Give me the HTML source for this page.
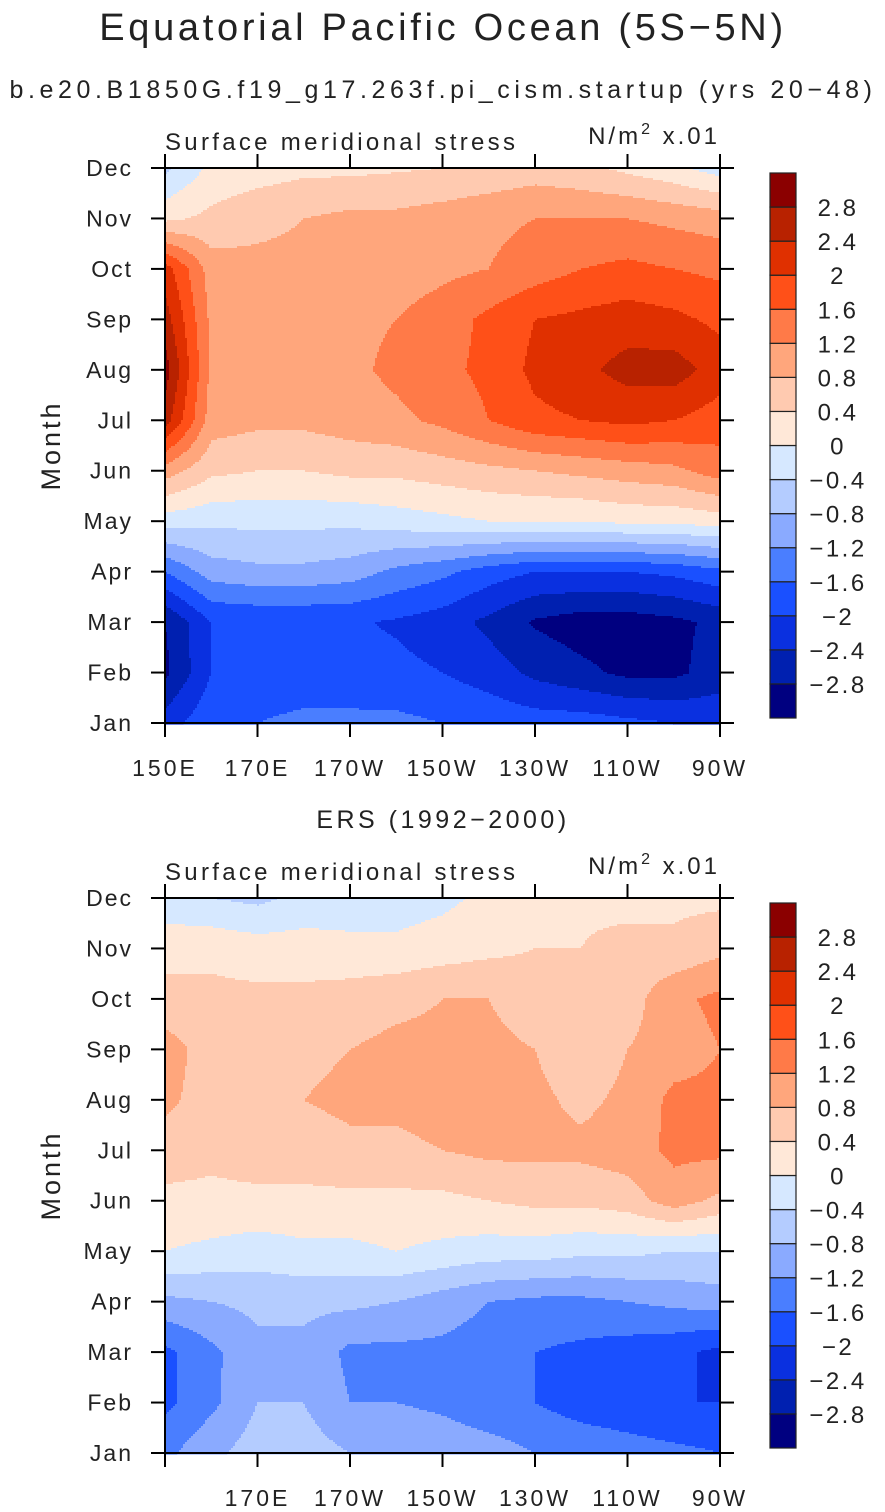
<!DOCTYPE html>
<html><head><meta charset="utf-8">
<style>
body{margin:0;background:#fff;}
svg{display:block;font-family:"Liberation Sans",sans-serif;}
text{fill:#222;}
</style></head>
<body>
<svg id="chart" width="885" height="1512" viewBox="0 0 885 1512">
<text x="443" y="40" font-size="38" text-anchor="middle" letter-spacing="3.7">Equatorial Pacific Ocean (5S−5N)</text>
<text x="443" y="98" font-size="25" text-anchor="middle" letter-spacing="4.6">b.e20.B1850G.f19_g17.263f.pi_cism.startup (yrs 20−48)</text>
<text x="443" y="828" font-size="25" text-anchor="middle" letter-spacing="3.5">ERS (1992−2000)</text>
<g id="p0"></g>
<g id="p1"></g>
</svg>
<script>
const months = ["Jan","Feb","Mar","Apr","May","Jun","Jul","Aug","Sep","Oct","Nov","Dec"];
const lons = [150,160,170,180,190,200,210,220,230,240,250,260,270];
const lonTicks = [150,170,190,210,230,250,270];
const lonTickLabels = ["150E","170E","170W","150W","130W","110W","90W"];
const levels = [-2.8,-2.4,-2,-1.6,-1.2,-0.8,-0.4,0,0.4,0.8,1.2,1.6,2,2.4,2.8];
const levelLabels = ["−2.8","−2.4","−2","−1.6","−1.2","−0.8","−0.4","0","0.4","0.8","1.2","1.6","2","2.4","2.8"];
const colors = ["#000080","#0020b0","#0a30e0","#1a50ff","#4a7eff","#8aaaff","#b4ccff","#d6e8ff","#ffe8d8","#ffcab0","#ffa67c","#ff7a48","#ff5018","#e03000","#b82200","#8b0000"];
// rows Jan..Dec, columns by lons
const modelData = [
[-2.2,-1.7,-1.6,-1.5,-1.5,-1.5,-1.6,-1.7,-1.8,-1.8,-1.9,-2.0,-2.1],
[-2.9,-2.0,-1.85,-1.85,-1.85,-1.9,-2.0,-2.2,-2.5,-2.7,-2.9,-2.9,-2.6],
[-2.8,-2.0,-1.95,-1.95,-1.95,-2.05,-2.2,-2.5,-2.85,-3.0,-3.0,-2.9,-2.7],
[-1.6,-1.0,-0.9,-0.9,-1.0,-1.3,-1.5,-1.8,-2.0,-2.0,-2.0,-1.9,-1.7],
[-0.2,-0.3,-0.3,-0.3,-0.3,-0.2,-0.1,0.0,0.0,0.0,0.1,0.1,0.2],
[1.0,0.5,0.4,0.4,0.5,0.5,0.6,0.7,0.8,0.9,1.0,1.1,1.4],
[2.6,1.0,0.9,0.9,1.0,1.1,1.3,1.6,1.9,2.0,2.1,2.0,1.8],
[3.0,1.1,1.0,1.0,1.1,1.3,1.5,1.7,2.1,2.3,2.55,2.6,2.2],
[2.6,1.1,1.0,1.0,1.1,1.2,1.4,1.7,2.0,2.1,2.2,2.1,1.9],
[2.2,1.0,0.9,0.9,0.9,1.0,1.1,1.2,1.4,1.6,1.7,1.6,1.5],
[0.3,0.5,0.7,0.8,0.9,0.9,1.0,1.1,1.2,1.2,1.2,1.1,1.0],
[-0.5,0.1,0.2,0.3,0.3,0.35,0.4,0.5,0.6,0.5,0.3,0.1,-0.2]
];
const ersData = [
[-1.3,-0.9,-0.6,-0.6,-0.8,-0.8,-0.9,-1.0,-1.2,-1.3,-1.4,-1.5,-1.6],
[-1.7,-1.3,-0.8,-0.8,-1.2,-1.2,-1.3,-1.5,-1.6,-1.8,-1.9,-2.0,-2.0],
[-1.7,-1.3,-0.9,-0.9,-1.3,-1.3,-1.3,-1.4,-1.6,-1.7,-1.8,-1.9,-2.1],
[-0.9,-0.8,-0.7,-0.7,-0.7,-0.8,-1.0,-1.2,-1.3,-1.3,-1.2,-1.1,-1.0],
[0.0,-0.1,-0.2,-0.1,-0.1,0.0,-0.1,-0.2,-0.2,-0.3,-0.3,-0.4,-0.4],
[0.3,0.3,0.3,0.3,0.3,0.3,0.3,0.4,0.5,0.5,0.6,1.0,0.7],
[0.6,0.5,0.6,0.6,0.7,0.7,0.8,0.9,0.9,0.9,1.0,1.3,1.3],
[0.9,0.6,0.7,0.8,0.9,0.9,1.0,0.9,0.9,0.7,0.9,1.3,1.3],
[1.0,0.6,0.6,0.7,0.8,0.9,0.9,0.9,0.8,0.5,0.8,1.0,1.2],
[0.5,0.5,0.5,0.5,0.6,0.7,0.8,0.8,0.6,0.5,0.6,1.1,1.3],
[0.3,0.3,0.2,0.2,0.1,0.1,0.2,0.3,0.4,0.4,0.6,0.5,0.7],
[-0.3,-0.4,-0.5,-0.3,-0.2,-0.2,-0.1,0.1,0.2,0.3,0.2,0.3,0.3]
];
const NS="http://www.w3.org/2000/svg";
function mk(parent,tag,attrs){const e=document.createElementNS(NS,tag);for(const k in attrs)e.setAttribute(k,attrs[k]);parent.appendChild(e);return e;}
function colorFor(v){let i=0;while(i<levels.length&&v>levels[i])i++;return colors[i];}
function drawPanel(g,data,top,showFirstLon){
  const L=165,R=720,T=top,B=top+555;
  const xs=lon=>L+(lon-150)/120*(R-L);
  const ys=m=>B-m/11*(B-T);
  const fld=mk(g,'g',{});
  
  
  const step=2;
  function val(x,y){
    const fx=Math.min(1,Math.max(0,(x-L)/(R-L)))*(lons.length-1), fy=Math.min(1,Math.max(0,(B-y)/(B-T)))*(months.length-1);
    const i=Math.min(lons.length-2,Math.floor(fx)), j=Math.min(months.length-2,Math.floor(fy));
    const tx=fx-i, ty=fy-j;
    return (data[j][i]*(1-tx)+data[j][i+1]*tx)*(1-ty)+(data[j+1][i]*(1-tx)+data[j+1][i+1]*tx)*ty;
  }
  function run(x0,x1,y,c){
    const r=mk(fld,'rect',{x:x0,y:y,width:x1-x0+0.6,height:step+0.6,fill:c});
    
    
  }
  for(let y=T;y<B;y+=step){
    let sx=L, sc=colorFor(val(L+1,y+1));
    for(let x=L+step;x<R;x+=step){
      const c=colorFor(val(x+1,y+1));
      if(c!==sc){ run(sx,x,y,sc); sx=x; sc=c; }
    }
    run(sx,R,y,sc);
  }
  const fr=mk(g,'rect',{x:L,y:T,width:R-L,height:B-T,fill:'none',stroke:'#000','stroke-width':2});
  
  
  months.forEach((m,k)=>{
    const y=ys(k);
    mk(g,'line',{x1:L-14,y1:y,x2:L,y2:y,stroke:'#000','stroke-width':2});
    mk(g,'line',{x1:R,y1:y,x2:R+14,y2:y,stroke:'#000','stroke-width':2});
    const t=mk(g,'text',{x:133,y:y+8,'font-size':23,'text-anchor':'end','letter-spacing':2});
    t.textContent=m;
    
    
  });
  lonTicks.forEach((lon,k)=>{
    const x=xs(lon);
    mk(g,'line',{x1:x,y1:T-14,x2:x,y2:T,stroke:'#000','stroke-width':2});
    mk(g,'line',{x1:x,y1:B,x2:x,y2:B+14,stroke:'#000','stroke-width':2});
    if(k===0&&!showFirstLon)return;
    const t=mk(g,'text',{x:x,y:B+53,'font-size':23,'text-anchor':'middle','letter-spacing':3});
    t.textContent=lonTickLabels[k];
    
    
  });
  const yt=mk(g,'text',{x:0,y:0,'font-size':27,'text-anchor':'middle','letter-spacing':3,transform:`translate(60,${(T+B)/2}) rotate(-90)`});
  yt.textContent='Month';
  
  
  const st=mk(g,'text',{x:L,y:T-18,'font-size':24,'letter-spacing':3.3});
  st.textContent='Surface meridional stress';
  
  
  const un=mk(g,'text',{x:R,y:T-24,'font-size':24,'text-anchor':'end','letter-spacing':3});
  un.innerHTML='N/m<tspan font-size="16" dy="-10">2</tspan><tspan dy="10"> x.01</tspan>';
  
  
  const cb=mk(g,'g',{});
  
  
  const cT=T+5, cH=545/colors.length;
  for(let i=0;i<colors.length;i++){
    const r=mk(cb,'rect',{x:770,y:cT+(colors.length-1-i)*cH,width:26,height:cH,fill:colors[i],stroke:'#222','stroke-width':1.2});
    
    
  }
  levels.forEach((lv,i)=>{
    const y=cT+(colors.length-1-i)*cH;
    const t=mk(cb,'text',{x:838,y:y+9,'font-size':24,'text-anchor':'middle','letter-spacing':2.5});
    t.textContent=levelLabels[i];
    
    
  });
}
drawPanel(document.getElementById('p0'),modelData,168,true);
drawPanel(document.getElementById('p1'),ersData,898,false);
</script>
</body></html>
